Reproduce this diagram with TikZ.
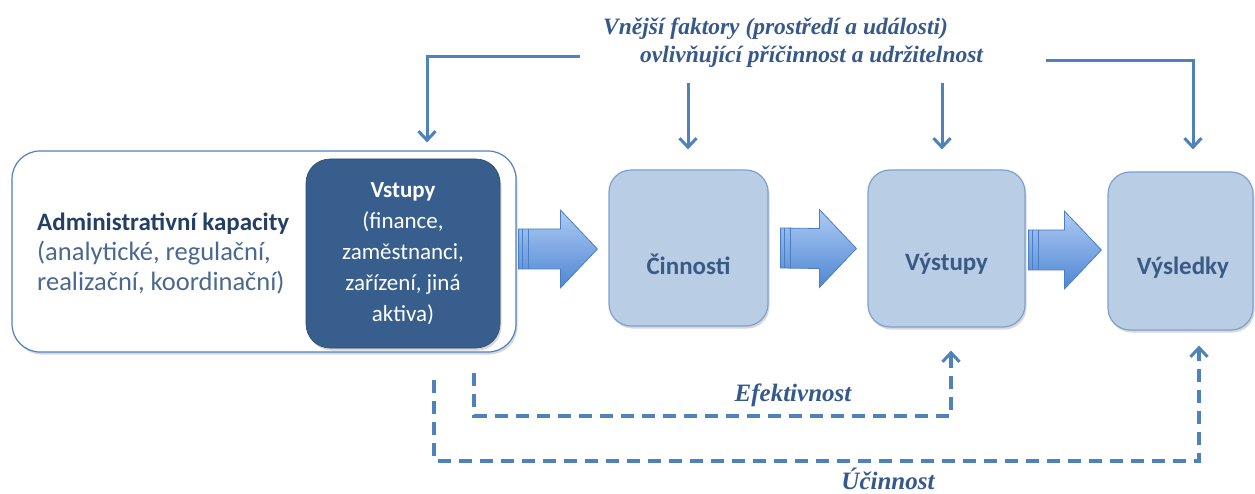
\documentclass[tikz,border=0pt]{standalone}
\usepackage{fontspec}
\setmainfont{Carlito}
\newfontfamily\labfont{Liberation Serif}
\usetikzlibrary{arrows.meta,calc,shadows}
\definecolor{dkblue}{HTML}{385E8D}
\definecolor{ltfill}{HTML}{B9CDE5}
\definecolor{ltdraw}{HTML}{7EA0CE}
\definecolor{boxtext}{HTML}{3A5A86}
\definecolor{conncol}{HTML}{4F81BD}
\definecolor{labcol}{HTML}{36598C}
\definecolor{admtext}{HTML}{243F66}
\definecolor{greytext}{HTML}{4A6890}
\definecolor{arrtop}{HTML}{AECBF3}
\definecolor{arrbot}{HTML}{4F86D3}
\definecolor{arrdraw}{HTML}{4A7EC6}
\tikzset{
  shad/.style={drop shadow={shadow xshift=1.5pt,shadow yshift=-2.5pt,opacity=0.25,fill=black!60}},
  lightbox/.style={draw=ltdraw,line width=1.2pt,fill=ltfill,rounded corners=22pt,shad},
  boxlabel/.style={font=\bfseries\fontsize{25}{30}\selectfont,text=boxtext},
  conn/.style={draw=conncol,line width=3pt,-{Straight Barb[length=9pt,width=17pt,line width=3pt]}},
  dconn/.style={draw=conncol,line width=4pt,dash pattern=on 13pt off 8pt,-{Straight Barb[length=9pt,width=17pt,line width=3pt]}},
  lab/.style={font=\labfont\bfseries\itshape\fontsize{23.5}{28}\selectfont,text=labcol},
  blockarrow/.style={top color=arrtop,bottom color=arrbot,draw=arrdraw,line width=0.8pt},
  stripe/.style={draw=arrdraw,line width=0.8pt}
}
\newcommand\myblockarrow[2]{%
  \path[blockarrow] ($(#1)+(0,-20)$) -- ($(#2)+(-37,-20)$) -- ($(#2)+(-37,-39)$) -- (#2)
     -- ($(#2)+(-37,39)$) -- ($(#2)+(-37,20)$) -- ($(#1)+(0,20)$) -- cycle;
  \draw[stripe] ($(#1)+(4,-20)$) -- ($(#1)+(4,20)$) ($(#1)+(10,-20)$) -- ($(#1)+(10,20)$);}
\begin{document}
\begin{tikzpicture}[x=1pt,y=-1pt]
\useasboundingbox (0,0) rectangle (1255,494);
\fill[white] (0,0) rectangle (1255,494);

% boxes
\node[draw=conncol,line width=1.2pt,fill=white,rounded corners=28pt,minimum width=504pt,minimum height=201pt,inner sep=0pt,shad] (outer) at (264,251.5) {};
\node[fill=dkblue,draw=dkblue!80!black,line width=0.6pt,rounded corners=24pt,minimum width=194pt,minimum height=189pt,inner sep=0pt,shad,
      text=white,align=center,font=\fontsize{23}{31}\selectfont] (vstupy) at (403,253.5)
      {\textbf{Vstupy}\\(finance,\\zaměstnanci,\\zařízení, jiná\\aktiva)};
\node[anchor=west,align=left,inner sep=0pt,font=\fontsize{26.5}{30}\selectfont,text=greytext] (adm) at (37,254)
      {{\color{admtext}\bfseries\fontsize{25}{30}\selectfont Administrativní kapacity}\\(analytické, regulační,\\realizační, koordinační)};

\node[lightbox,minimum width=159pt,minimum height=156pt,inner sep=0pt] (cin) at (688.5,248) {};
\node[boxlabel] (cint) at (688.5,264) {Činnosti};
\node[lightbox,minimum width=157pt,minimum height=157pt,inner sep=0pt] (vys) at (946.5,248.5) {};
\node[boxlabel] (vyst) at (946.5,264) {Výstupy};
\node[lightbox,minimum width=145pt,minimum height=158pt,inner sep=0pt] (vysl) at (1180.5,251) {};
\node[boxlabel] (vyslt) at (1183,268) {Výsledky};

% block arrows
\coordinate (a1s) at ($(outer.east)+(2,-2.5)$);
\coordinate (a1t) at ($(cin.west)+(-11,1)$);
\coordinate (a2s) at ($(cin.east)+(12,0)$);
\coordinate (a2t) at ($(vys.west)+(-11,0)$);
\coordinate (a3s) at ($(vys.east)+(3,1.5)$);
\coordinate (a3t) at ($(vysl.west)+(-6,-1)$);
\myblockarrow{a1s}{a1t}
\myblockarrow{a2s}{a2t}
\myblockarrow{a3s}{a3t}

% external factors
\node[lab,anchor=base west,inner sep=0pt] (ext1) at (603,35) {Vnější faktory (prostředí a události)};
\node[lab,anchor=base west,inner sep=0pt] (ext2) at (640,63) {ovlivňující příčinnost a udržitelnost};

\draw[conn] ($(ext2.base west)+(-60,-6)$) -| ($(outer.north)+(163,-8)$);
\draw[conn] ($(cin.north)+(-0.5,-86)$) -- ($(cin.north)+(-0.5,-20)$);
\draw[conn] ($(vys.north)+(-4.5,-86)$) -- ($(vys.north)+(-4.5,-20)$);
\draw[conn] ($(ext2.base east)+(63,-2)$) -| ($(vysl.north)+(12.5,-22)$);

% efficiency loops
\coordinate (e0) at ($(vstupy.south)+(71,25)$);
\coordinate (e1) at ($(vys.south)+(4.5,23)$);
\draw[dconn] (e0) |- ($(e1)+(0,65)$) -- (e1);
\coordinate (u0) at ($(vstupy.south)+(31,32)$);
\coordinate (u1) at ($(vysl.south)+(18.5,15)$);
\draw[dconn] (u0) |- ($(u1)+(0,115)$) -- (u1);

\node[lab,font=\labfont\bfseries\itshape\fontsize{25}{30}\selectfont] (efe) at (793,395) {Efektivnost};
\node[lab,inner sep=0pt,font=\labfont\bfseries\itshape\fontsize{25}{30}\selectfont] (uci) at (888,479) {Účinnost};
\end{tikzpicture}
\end{document}
